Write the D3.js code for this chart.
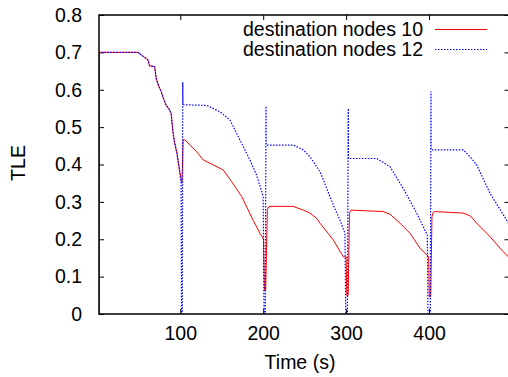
<!DOCTYPE html>
<html>
<head>
<meta charset="utf-8">
<script src="https://cdn.jsdelivr.net/npm/d3@7"></script>
<style>
  body { margin: 0; background: #fff; }
  text { font-family: "Liberation Sans", Arial, sans-serif; fill: #000; }
</style>
</head>
<body>
<div id="chart"></div>
<script>
// destination nodes 10 (red, solid)
const time10 = [2, 2, 49, 52, 55, 58, 61, 63, 69, 71, 74, 77, 80, 83, 86, 89, 91, 93, 96, 99, 102, 103.5,
  106, 111.7, 119.8, 127.8, 139.8, 151.9, 162, 174.1, 188.1, 196.1, 200.5, 201.5, 203, 205, 207,
  236, 248.4, 256.4, 264.5, 268.5, 284.5, 296.6, 300, 300.8, 302.5, 304, 306,
  344.8, 352.9, 365, 377, 389.1, 399.5, 400.3, 402, 403.5, 405, 407,
  441.3, 450, 457.4, 473.5, 487.6, 497];
const tle10 = [0, 0.7, 0.7, 0.695, 0.69, 0.685, 0.68, 0.664, 0.662, 0.63, 0.61, 0.595, 0.575, 0.558, 0.55, 0.537, 0.49, 0.46, 0.43, 0.385, 0.35, 0.467,
  0.465, 0.452, 0.434, 0.412, 0.399, 0.385, 0.354, 0.314, 0.25, 0.216, 0.2, 0.064, 0.064, 0.28, 0.288,
  0.288, 0.278, 0.27, 0.256, 0.243, 0.198, 0.153, 0.153, 0.05, 0.05, 0.27, 0.278,
  0.274, 0.267, 0.243, 0.216, 0.176, 0.153, 0.046, 0.046, 0.26, 0.272, 0.274,
  0.27, 0.262, 0.243, 0.207, 0.171, 0.15];

// destination nodes 12 (blue, dotted)
const time12 = [2, 2, 49, 52, 55, 58, 61, 63, 69, 71, 74, 77, 80, 83, 86, 89, 91, 93, 96, 99, 101, 101.5, 102.5, 103, 103.3,
  131.9, 139.8, 147.9, 160, 168, 176, 184, 192, 200, 201, 202.5, 203.4, 203.6,
  236.3, 248.4, 256.4, 264.5, 268.5, 276.6, 284.5, 292.6, 298.6, 299.5, 301.5, 302.6, 302.8,
  336.9, 352.9, 368.9, 385.1, 397.9, 398.7, 401.5, 402.3, 402.5,
  441.3, 449.4, 457.4, 473.5, 493.6, 497];
const tle12 = [0, 0.7, 0.7, 0.695, 0.69, 0.685, 0.68, 0.664, 0.662, 0.63, 0.61, 0.595, 0.575, 0.558, 0.55, 0.537, 0.49, 0.46, 0.43, 0.385, 0.35, 0, 0, 0.62, 0.56,
  0.558, 0.55, 0.541, 0.519, 0.483, 0.448, 0.412, 0.372, 0.314, 0, 0, 0.556, 0.452,
  0.452, 0.439, 0.421, 0.394, 0.381, 0.336, 0.292, 0.251, 0.216, 0, 0, 0.55, 0.416,
  0.416, 0.394, 0.336, 0.27, 0.211, 0, 0, 0.595, 0.439,
  0.439, 0.421, 0.399, 0.323, 0.251, 0.24];

const xTicks = [100, 200, 300, 400];
const yTicks = [0, 0.1, 0.2, 0.3, 0.4, 0.5, 0.6, 0.7, 0.8];
const seriesNames = ["destination nodes 10", "destination nodes 12"];

const width = 508, height = 377;
const plotLeft = 99, plotRight = 509.5, plotTop = 15, plotBottom = 314;
const fontSize = "19.5px";

const x = d3.scaleLinear().domain([2, 497]).range([plotLeft, plotRight]);
const y = d3.scaleLinear().domain([0, 0.8]).range([plotBottom, plotTop]);

const svg = d3.select("#chart").append("svg")
  .attr("width", width)
  .attr("height", height);

svg.append("defs").append("clipPath").attr("id", "plot-clip")
  .append("rect")
  .attr("x", plotLeft).attr("y", plotTop)
  .attr("width", plotRight - plotLeft).attr("height", plotBottom - plotTop);

// axes with inward ticks on all four sides
const tickLen = 5;
svg.append("g")
  .attr("transform", `translate(0,${plotBottom})`)
  .call(d3.axisBottom(x).tickValues(xTicks).tickSizeInner(-tickLen).tickSizeOuter(0).tickPadding(12).tickFormat(d3.format("d")))
  .call(g => g.select(".domain").remove());
svg.append("g")
  .attr("transform", `translate(0,${plotTop})`)
  .call(d3.axisTop(x).tickValues(xTicks).tickSizeInner(-tickLen).tickSizeOuter(0).tickFormat(""))
  .call(g => g.select(".domain").remove());
svg.append("g")
  .attr("transform", `translate(${plotLeft},0)`)
  .call(d3.axisLeft(y).tickValues(yTicks).tickSizeInner(-tickLen).tickSizeOuter(0).tickPadding(17)
    .tickFormat(d => d === 0 ? "0" : d3.format(".1f")(d)))
  .call(g => g.select(".domain").remove());
svg.append("g")
  .attr("transform", `translate(${plotRight},0)`)
  .call(d3.axisRight(y).tickValues(yTicks).tickSizeInner(-tickLen).tickSizeOuter(0).tickFormat(""))
  .call(g => g.select(".domain").remove());

svg.selectAll(".tick text")
  .style("font-size", fontSize)
  .style("font-family", "'Liberation Sans', Arial, sans-serif")
  .attr("fill", "#000");
svg.selectAll(".tick line").attr("stroke", "#000");

const line = d3.line()
  .x(d => x(d[0]))
  .y(d => y(d[1]));

const plot = svg.append("g").attr("clip-path", "url(#plot-clip)");

plot.append("path")
  .datum(time10.map((t, i) => [t, tle10[i]]))
  .attr("fill", "none")
  .attr("stroke", "#ff0000")
  .attr("stroke-width", 1)
  .attr("d", line);

plot.append("path")
  .datum(time12.map((t, i) => [t, tle12[i]]))
  .attr("fill", "none")
  .attr("stroke", "#0000ff")
  .attr("stroke-width", 1.2)
  .attr("stroke-dasharray", "1.5,1.5")
  .attr("d", line);

// frame
svg.append("rect")
  .attr("x", plotLeft).attr("y", plotTop)
  .attr("width", plotRight - plotLeft).attr("height", plotBottom - plotTop)
  .attr("fill", "none")
  .attr("stroke", "#000")
  .attr("stroke-width", 1.5);

// legend
const legend = svg.append("g");
seriesNames.forEach((name, i) => {
  const ly = 29.5 + i * 20;
  legend.append("text")
    .attr("x", 423).attr("y", ly + 6.5)
    .attr("text-anchor", "end")
    .style("font-size", fontSize)
    .text(name);
  legend.append("line")
    .attr("x1", 435).attr("x2", 487)
    .attr("y1", ly).attr("y2", ly)
    .attr("stroke", i === 0 ? "#ff0000" : "#0000ff")
    .attr("stroke-width", i === 0 ? 1 : 1.2)
    .attr("stroke-dasharray", i === 0 ? null : "1.5,1.5");
});

// axis titles
svg.append("text")
  .attr("x", 300).attr("y", 369)
  .attr("text-anchor", "middle")
  .style("font-size", fontSize)
  .text("Time (s)");

svg.append("text")
  .attr("transform", "translate(25,163) rotate(-90)")
  .attr("text-anchor", "middle")
  .style("font-size", fontSize)
  .text("TLE");
</script>
</body>
</html>
